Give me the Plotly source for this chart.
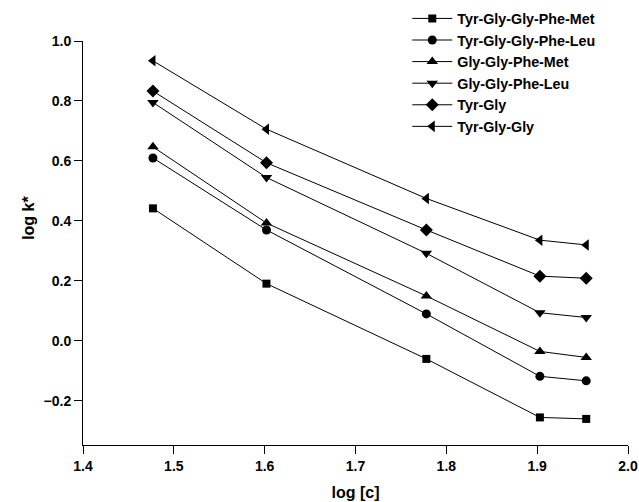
import plotly.graph_objects as go

log_c = [1.477, 1.602, 1.778, 1.903, 1.954]

series_names = [
    "Tyr-Gly-Gly-Phe-Met",
    "Tyr-Gly-Gly-Phe-Leu",
    "Gly-Gly-Phe-Met",
    "Gly-Gly-Phe-Leu",
    "Tyr-Gly",
    "Tyr-Gly-Gly",
]
tyr_gly_gly_phe_met = [0.442, 0.191, -0.060, -0.255, -0.260]
tyr_gly_gly_phe_leu = [0.610, 0.370, 0.090, -0.118, -0.133]
gly_gly_phe_met = [0.647, 0.393, 0.150, -0.035, -0.055]
gly_gly_phe_leu = [0.795, 0.545, 0.292, 0.094, 0.078]
tyr_gly = [0.833, 0.594, 0.370, 0.216, 0.209]
tyr_gly_gly = [0.934, 0.706, 0.475, 0.336, 0.320]

series_values = [tyr_gly_gly_phe_met, tyr_gly_gly_phe_leu, gly_gly_phe_met,
                 gly_gly_phe_leu, tyr_gly, tyr_gly_gly]
symbols = ["square", "circle", "triangle-up", "triangle-down", "diamond", "triangle-left"]
sizes = [8, 9, 10, 10, 10, 10]

x_ticks = [1.4, 1.5, 1.6, 1.7, 1.8, 1.9, 2.0]
y_ticks = [-0.2, 0.0, 0.2, 0.4, 0.6, 0.8, 1.0]

FONT = "Liberation Sans, Arial, sans-serif"

fig = go.Figure()
for name, vals, sym, sz in zip(series_names, series_values, symbols, sizes):
    fig.add_trace(go.Scatter(
        x=log_c, y=vals, name=name, mode="lines+markers",
        line=dict(color="black", width=1),
        marker=dict(symbol=sym, size=sz, color="black"),
    ))

axis_common = dict(
    showgrid=False, zeroline=False, showline=True, linecolor="black", linewidth=1,
    ticks="outside", ticklen=8, tickcolor="black", tickwidth=1,
    ticklabeloverflow="allow",
    tickfont=dict(family=FONT, size=14, color="black", weight="bold"),
)

fig.update_layout(
    width=639, height=502,
    margin=dict(l=82.5, r=11.3, t=40.7, b=57, autoexpand=False),
    paper_bgcolor="white", plot_bgcolor="white",
    font=dict(family=FONT, color="black"),
    xaxis=dict(range=[1.4, 2.0], tickvals=x_ticks, tickformat=".1f",
               title=dict(text="log [c]", font=dict(family=FONT, size=16, weight="bold"), standoff=14),
               **axis_common),
    yaxis=dict(range=[-0.347, 1.0], tickvals=y_ticks, tickformat=".1f", **axis_common),
    legend=dict(x=0.595, y=1.095, xanchor="left", yanchor="top", itemwidth=40,
                font=dict(family=FONT, size=14.3, weight="bold", color="black"),
                bgcolor="rgba(0,0,0,0)", borderwidth=0),
    annotations=[dict(text="log k*", textangle=-90, xref="paper", yref="paper",
                      x=-0.1, y=0.561, xanchor="center", yanchor="middle", showarrow=False,
                      font=dict(family=FONT, size=16, weight="bold", color="black"))],
)

fig.write_html(
    "out.html",
    config={"displayModeBar": False},
    post_script="document.body.style.margin='0';document.body.style.overflow='hidden';",
)
